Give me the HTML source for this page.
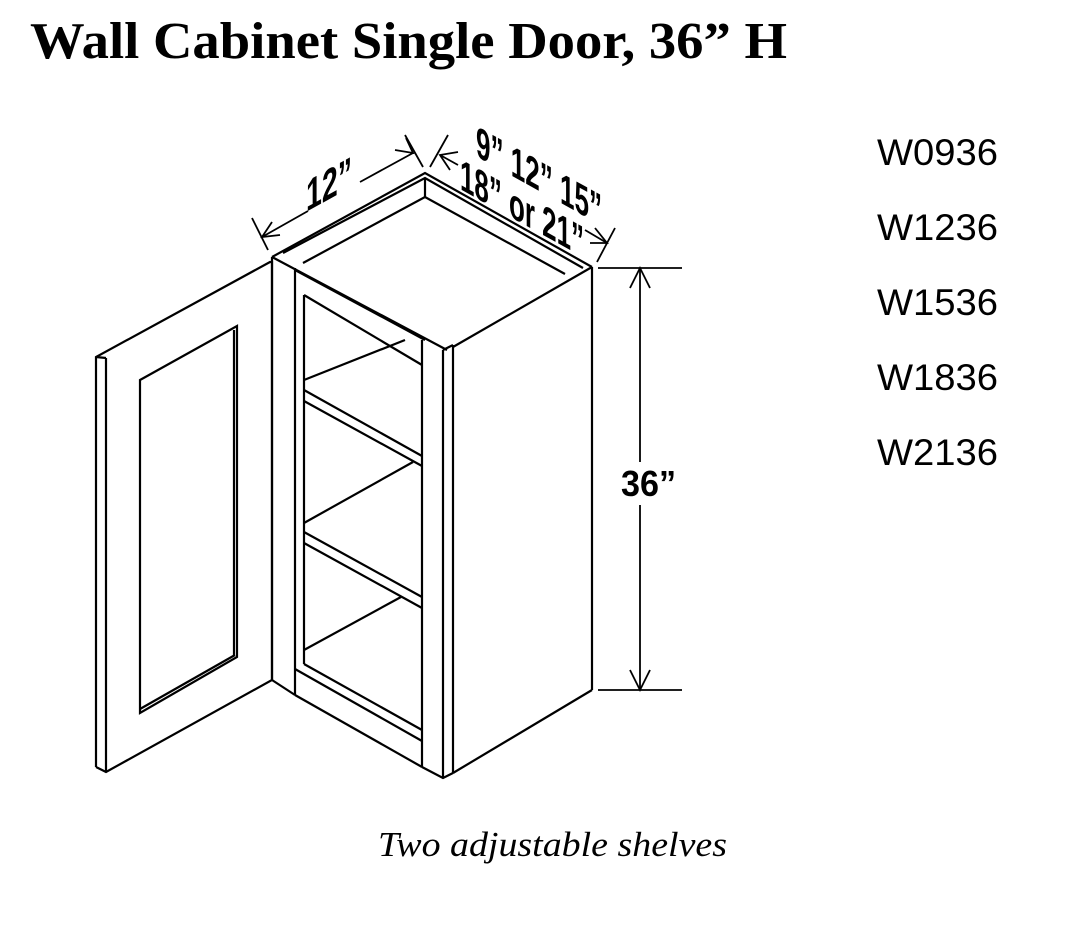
<!DOCTYPE html>
<html><head><meta charset="utf-8"><style>
html,body{margin:0;padding:0;background:#fff;}
svg{display:block;}
</style></head><body>
<svg width="1077" height="952" viewBox="0 0 1077 952" xmlns="http://www.w3.org/2000/svg">
<rect width="1077" height="952" fill="#fff"/>
<text x="30" y="58" font-family="Liberation Serif, serif" font-weight="bold" font-size="52" textLength="757" lengthAdjust="spacingAndGlyphs">Wall Cabinet Single Door, 36” H</text>
<g font-family="Liberation Sans, sans-serif" font-size="37" fill="#000">
<text x="877" y="165" textLength="121" lengthAdjust="spacingAndGlyphs">W0936</text>
<text x="877" y="240" textLength="121" lengthAdjust="spacingAndGlyphs">W1236</text>
<text x="877" y="315" textLength="121" lengthAdjust="spacingAndGlyphs">W1536</text>
<text x="877" y="390" textLength="121" lengthAdjust="spacingAndGlyphs">W1836</text>
<text x="877" y="465" textLength="121" lengthAdjust="spacingAndGlyphs">W2136</text>
</g>
<text x="378" y="856" font-family="Liberation Serif, serif" font-style="italic" font-size="35" textLength="349" lengthAdjust="spacingAndGlyphs">Two adjustable shelves</text>
<g fill="none" stroke="#000" stroke-width="2.2" stroke-linejoin="miter">
<polyline points="96,767 96,357 270,262 272,262 272,680 106,772 96,767"/>
<line x1="106" y1="358" x2="106" y2="772"/>
<line x1="96" y1="357" x2="106" y2="358"/>
<polygon points="140,380 237,326 237,657 140,713"/>
<line x1="234" y1="330" x2="234" y2="655"/>
<line x1="140" y1="709" x2="235" y2="655"/>
<polyline points="272,257 425,173 592,267"/>
<polyline points="283,253 425,178 583,268"/>
<polyline points="303,263 425,197 565,274"/>
<line x1="425" y1="178" x2="425" y2="197"/>
<line x1="272" y1="257" x2="447" y2="350"/>
<line x1="453" y1="347" x2="592" y2="267"/>
<line x1="443" y1="350" x2="453" y2="345"/>
<line x1="295" y1="270" x2="425" y2="340"/>
<line x1="304" y1="295" x2="422" y2="365"/>
<line x1="272" y1="257" x2="272" y2="680"/>
<line x1="295" y1="268" x2="295" y2="695"/>
<line x1="304" y1="295" x2="304" y2="664"/>
<line x1="272" y1="680" x2="295" y2="695"/>
<line x1="422" y1="340" x2="422" y2="767"/>
<line x1="443" y1="350" x2="443" y2="778"/>
<line x1="453" y1="345" x2="453" y2="773"/>
<line x1="592" y1="267" x2="592" y2="690"/>
<polyline points="422,767 443,778 453,773"/>
<line x1="453" y1="773" x2="592" y2="690"/>
<line x1="295" y1="695" x2="422" y2="767"/>
<line x1="304" y1="664" x2="422" y2="730"/>
<line x1="295" y1="669" x2="422" y2="741"/>
<line x1="304" y1="650" x2="401" y2="597"/>
<line x1="304" y1="380" x2="405" y2="340"/>
<line x1="304" y1="390" x2="422" y2="456"/>
<line x1="304" y1="401" x2="422" y2="466"/>
<line x1="304" y1="523" x2="413" y2="462"/>
<line x1="304" y1="532" x2="422" y2="597"/>
<line x1="304" y1="543" x2="422" y2="608"/>
</g>
<g fill="none" stroke="#000" stroke-width="1.8">
<line x1="252" y1="218" x2="268" y2="250"/>
<line x1="405" y1="135" x2="423" y2="167"/>
<line x1="262" y1="237" x2="308" y2="211"/>
<line x1="360" y1="182" x2="413" y2="153"/>
<polyline points="272,222 262,237 280,235"/>
<polyline points="395,150 413,153 406,138"/>
<line x1="448" y1="135" x2="430" y2="167"/>
<line x1="615" y1="228" x2="597" y2="262"/>
<line x1="440" y1="155" x2="458" y2="165"/>
<line x1="585" y1="230" x2="607" y2="243"/>
<polyline points="458,152 440,155 450,170"/>
<polyline points="595,228 607,243 590,243"/>
<line x1="598" y1="268" x2="682" y2="268"/>
<line x1="598" y1="690" x2="682" y2="690"/>
<line x1="640" y1="268" x2="640" y2="462"/>
<line x1="640" y1="505" x2="640" y2="690"/>
<polyline points="630,288 640,268 650,288"/>
<polyline points="630,670 640,690 650,670"/>
</g>
<g font-family="Liberation Sans, sans-serif" font-weight="bold" fill="#000">
<text transform="translate(306,212) skewY(-29)" font-size="44" textLength="46" lengthAdjust="spacingAndGlyphs">12”</text>
<text transform="translate(476,156) skewY(29)" font-size="44" textLength="126" lengthAdjust="spacingAndGlyphs">9” 12” 15”</text>
<text transform="translate(460,189) skewY(29)" font-size="44" textLength="124" lengthAdjust="spacingAndGlyphs">18” or 21”</text>
<text x="621" y="496" font-size="36" textLength="55" lengthAdjust="spacingAndGlyphs">36”</text>
</g>
</svg>
</body></html>
